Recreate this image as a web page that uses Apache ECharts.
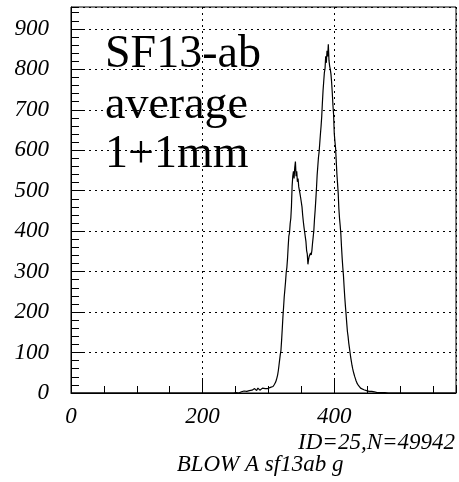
<!DOCTYPE html>
<html>
<head>
<meta charset="utf-8">
<script src="https://cdn.jsdelivr.net/npm/echarts@6/dist/echarts.min.js"></script>
<style>
html,body{margin:0;padding:0;background:#fff;}
#chart{width:459px;height:482px;}
</style>
</head>
<body>
<div id="chart"></div>
<script>
// ---- data ----
const xMin = 0, xMax = 585;
const yMin = 0, yMax = 954;
const xTickLabels = [0, 200, 400];
const yTickLabels = [0, 100, 200, 300, 400, 500, 600, 700, 800, 900];
const titleLines = ['SF13-ab', 'average', '1+1mm'];
const idText = 'ID=25,N=49942';
const footText = 'BLOW A sf13ab g';

// sparse low-level noise bins (bin, count)
const lowBins   = [42, 48, 66, 70, 75, 90, 118, 140, 165, 178, 183, 190, 205, 212, 220, 226, 232, 238, 242, 247];
const lowCounts = [3, 2, 2, 3, 1, 2, 1, 2, 1, 2, 3, 1, 2, 1, 2, 1, 3, 2, 3, 2];

// dense bins of width 1 starting at mainStart
const mainStart = 250;
const mainCounts = [
  1,0,2,1,3,0,2,4,1,3,
  2,4,3,5,2,6,3,4,5,7,
  4,6,5,8,4,7,9,6,8,11,
  7,9,6,10,12,8,9,7,11,10,
  9,12,10,8,13,11,10,12,14,11,
  13,12,15,14,16,14,17,16,19,21,
  22,27,32,38,45,55,68,82,95,105,
  130,158,188,212,238,256,275,298,310,332,
  362,388,396,418,432,462,512,536,548,530,
  558,572,536,548,522,530,510,514,492,482,
  486,460,440,424,410,398,386,374,352,344,
  318,330,338,334,346,341,352,370,386,402,
  430,452,478,506,538,560,582,596,618,640,
  660,684,718,748,770,792,802,832,816,846,
  832,862,822,808,800,788,768,742,712,688,
  642,622,606,574,542,518,494,456,432,414,
  394,362,334,310,290,262,236,214,194,172,
  152,140,124,112,100,88,78,68,60,53,
  47,41,36,31,27,23,20,18,16,14,
  12,11,9,8,8,7,6,6,5,6,
  4,5,3,4,4,2,3,4,2,3,
  2,3,1,2,3,1,2,1,2,1,
  1,0,2,1,0,1,0,1,0,0
];

// ---- build histogram table ----
const counts = new Array(xMax + 1).fill(0);
lowBins.forEach((b, i) => { counts[b] = lowCounts[i]; });
mainCounts.forEach((c, i) => { counts[mainStart + i] = c; });
const histData = counts.map((c, i) => [i, c]);

const FONT = '"Liberation Serif", "Times New Roman", serif';
const dotted = { color: '#000', width: 1, type: [2, 4] };

const chart = echarts.init(document.getElementById('chart'), null, { renderer: 'canvas' });
chart.setOption({
  animation: false,
  backgroundColor: '#fff',
  grid: { left: 71, top: 7, width: 385, height: 386, show: true, borderColor: '#000', borderWidth: 1, backgroundColor: '#fff' },
  xAxis: [
    {
      type: 'value', min: xMin, max: xMax, interval: 50, position: 'bottom',
      axisLine: { show: true, onZero: false, lineStyle: { color: '#000', width: 1 } },
      axisTick: { show: true, inside: true, length: 7, lineStyle: { color: '#000', width: 1 } },
      axisLabel: { show: false },
      splitLine: { show: false }
    },
    {
      type: 'value', min: xMin, max: xMax, interval: 200, position: 'bottom',
      axisLine: { show: false, onZero: false },
      axisTick: { show: true, inside: true, length: 15, lineStyle: { color: '#000', width: 1 } },
      axisLabel: {
        show: true, margin: 12, color: '#000', fontFamily: FONT, fontStyle: 'italic', fontSize: 23,
        showMaxLabel: false,
        formatter: v => (xTickLabels.indexOf(v) >= 0 ? String(v) : '')
      },
      splitLine: { show: true, lineStyle: dotted }
    }
  ],
  yAxis: [
    {
      type: 'value', min: yMin, max: yMax, interval: 20, position: 'left',
      axisLine: { show: true, onZero: false, lineStyle: { color: '#000', width: 1 } },
      axisTick: { show: true, inside: true, length: 8, lineStyle: { color: '#000', width: 1 } },
      axisLabel: { show: false },
      splitLine: { show: false }
    },
    {
      type: 'value', min: yMin, max: yMax, interval: 100, position: 'left', offset: 0,
      axisLine: { show: false, onZero: false },
      axisTick: { show: true, inside: true, length: 14, lineStyle: { color: '#000', width: 1 } },
      axisLabel: {
        show: true, margin: 22, color: '#000', fontFamily: FONT, fontStyle: 'italic', fontSize: 23,
        showMaxLabel: false,
        formatter: v => (yTickLabels.indexOf(v) >= 0 ? String(v) : '')
      },
      splitLine: { show: true, lineStyle: dotted }
    }
  ],
  series: [{
    type: 'line',
    xAxisIndex: 0, yAxisIndex: 0,
    step: 'end',
    data: histData,
    showSymbol: false,
    symbol: 'none',
    lineStyle: { color: '#000', width: 1.2 },
    clip: true,
    z: 5
  }],
  graphic: [
    { type: 'text', x: 105, y: 32, z: 10, style: { text: titleLines[0], font: '46px ' + FONT, fill: '#000' } },
    { type: 'text', x: 105, y: 83, z: 10, style: { text: titleLines[1], font: '46px ' + FONT, fill: '#000' } },
    { type: 'text', x: 105, y: 132, z: 10, style: { text: titleLines[2], font: '46px ' + FONT, fill: '#000' } },
    { type: 'text', x: 455, y: 431, z: 10, style: { text: idText, font: 'italic 23px ' + FONT, fill: '#000', align: 'right' } },
    { type: 'text', x: 260, y: 453, z: 10, style: { text: footText, font: 'italic 23px ' + FONT, fill: '#000', align: 'center' } }
  ]
});
</script>
</body>
</html>
